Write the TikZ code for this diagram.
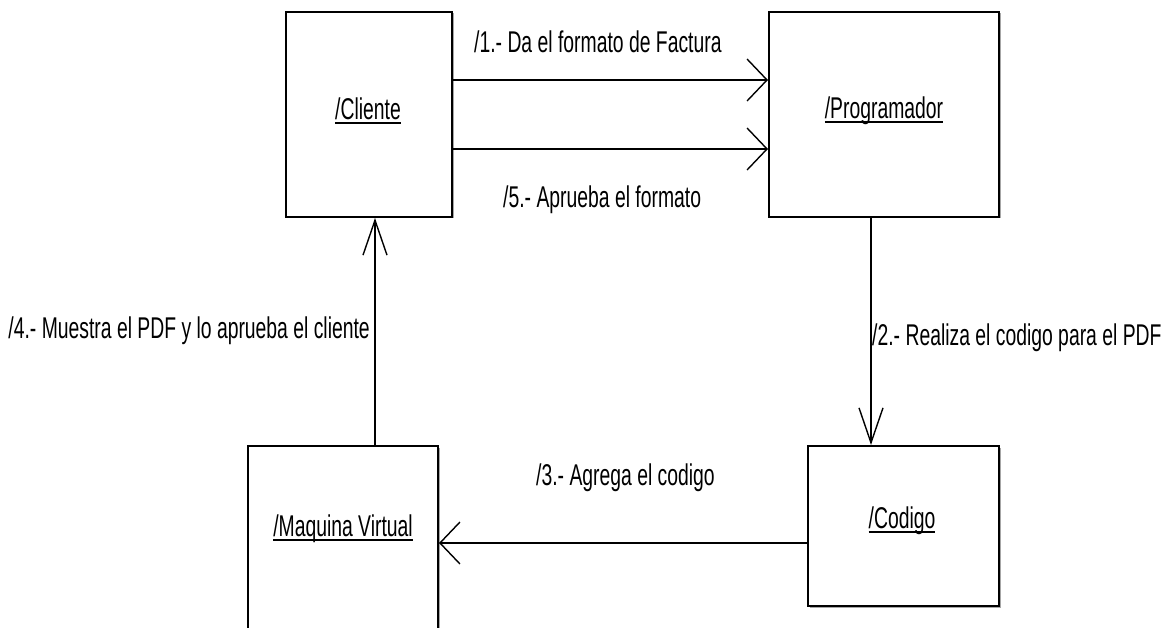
\documentclass[tikz,border=0pt]{standalone}
\usepackage{fontspec}
\setmainfont[FakeStretch=0.645]{Liberation Sans}
\usetikzlibrary{arrows.meta,shadows}

% underlined object name
\newcommand{\objname}[1]{\setbox0=\hbox{#1}\rlap{\rule[-4pt]{\wd0}{1.8pt}}\box0}

\begin{document}
\begin{tikzpicture}[x=1pt,y=-1pt,
  every node/.style={font=\fontsize{30}{36}\selectfont},
  objbox/.style={draw=black, line width=2pt, fill=white, rectangle,
    inner sep=0pt, drop shadow={shadow xshift=1.5pt, shadow yshift=-1.5pt,
    opacity=0.35, fill=black}},
  objlabel/.style={inner sep=0pt},
  msg/.style={inner sep=0pt},
  link/.style={draw=black, line width=1.6pt},
  harr/.style={link, -{Straight Barb[length=20pt,width=42pt,line width=1.4pt]}},
  varr/.style={link, -{Straight Barb[length=35pt,width=24pt,line width=1.4pt]}}
]
\useasboundingbox (0,0) rectangle (1169,628);
\fill[white] (0,0) rectangle (1169,628);
\clip (0,0) rectangle (1169,628);

% objects
\node[objbox, minimum width=166pt, minimum height=205pt] (cliente) at (369,114.5) {};
\node[objbox, minimum width=230pt, minimum height=205pt] (programador) at (884,114.5) {};
\node[objbox, minimum width=191pt, minimum height=160pt] (codigo) at (903.5,526) {};
\node[objbox, minimum width=190pt, minimum height=214pt] (maquina) at (343,553) {};

\node[objlabel] (clientetxt) at (368,111) {\objname{/Cliente}};
\node[objlabel] (programadortxt) at (884,111) {\objname{/Programador}};
\node[objlabel] (codigotxt) at (902,521) {\objname{/Codigo}};
\node[objlabel] (maquinatxt) at (343,529) {\objname{/Maquina Virtual}};

% messages
\draw[harr] ([yshift=34.5pt]cliente.east) -- ([yshift=34.5pt]programador.west);
\draw[harr] ([yshift=-34.5pt]cliente.east) -- ([yshift=-34.5pt]programador.west);
\draw[varr] ([xshift=-13pt]programador.south) -- ([xshift=-32.5pt]codigo.north);
\draw[harr] ([yshift=-17pt]codigo.west) -- ([yshift=10pt]maquina.east);
\draw[varr] ([xshift=32pt]maquina.north) -- ([xshift=6pt]cliente.south);

\node[msg, anchor=base west] (m1) at (474,53) {/1.- Da el formato de Factura};
\node[msg, anchor=base west] (m5) at (503,208) {/5.- Aprueba el formato};
\node[msg, anchor=base west] (m2) at (872,345) {/2.- Realiza el codigo para el PDF};
\node[msg, anchor=base west] (m3) at (536,485) {/3.- Agrega el codigo};
\node[msg, anchor=base east] (m4) at (370,338) {/4.- Muestra el PDF y lo aprueba el cliente};
\end{tikzpicture}
\end{document}
